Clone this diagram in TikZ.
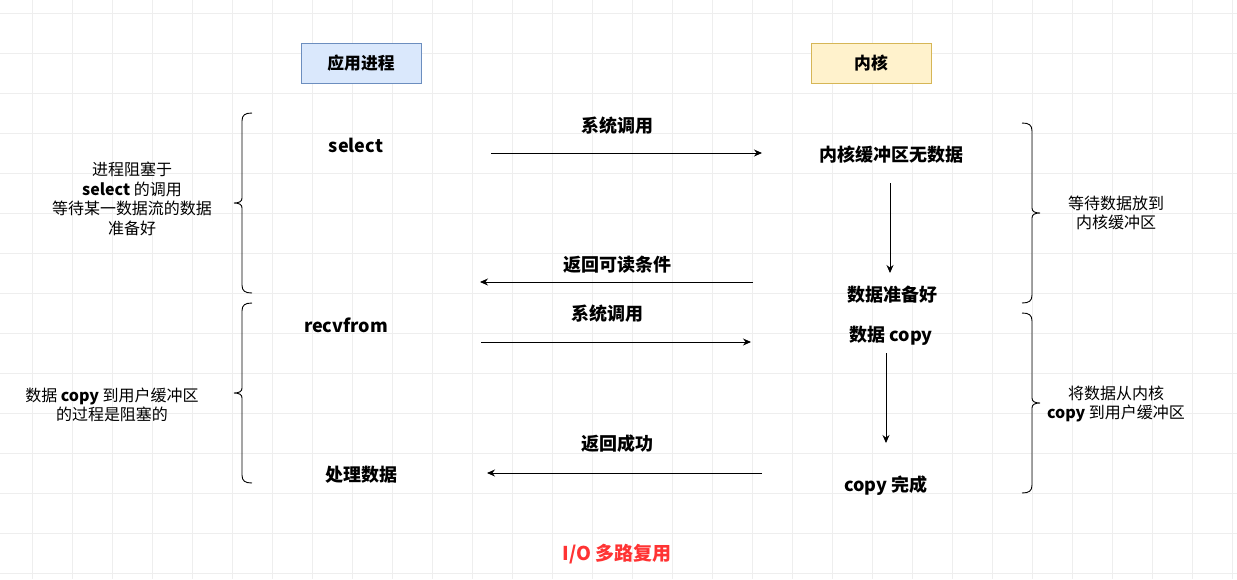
\documentclass[tikz,border=0pt]{standalone}
\usepackage{fontspec}
\setmainfont{Noto Sans CJK SC}
\usetikzlibrary{arrows.meta}
\definecolor{gridc}{HTML}{EEEEEE}
\definecolor{appfill}{HTML}{DAE8FC}
\definecolor{appdraw}{HTML}{6C8EBF}
\definecolor{kfill}{HTML}{FFF2CC}
\definecolor{kdraw}{HTML}{D6B656}
\definecolor{titlered}{HTML}{FF3333}
\begin{document}
\begin{tikzpicture}[x=1pt,y=-1pt,
  lbl/.style={font=\fontsize{18}{21}\selectfont\bfseries, inner sep=0pt},
  side/.style={font=\fontsize{16}{19.5}\selectfont, align=center, inner sep=0pt},
  hdr/.style={minimum width=120pt, minimum height=40pt, inner sep=0pt, line width=0.8pt, font=\fontsize{16.8}{20}\selectfont\bfseries},
  arr/.style={-{Stealth[length=8pt,width=7pt]}, line width=0.9pt},
  bracepath/.style={line width=0.9pt}]
\fill[white] (0,0) rectangle (1237,579);
\useasboundingbox (0,0) rectangle (1237,579);
\foreach \x in {32,72,...,1232} \draw[gridc, line width=0.8pt] (\x,0) -- (\x,579);
\foreach \y in {13,53,...,573} \draw[gridc, line width=0.8pt] (0,\y) -- (1237,\y);

% headers
\node[hdr, fill=appfill, draw=appdraw] (app) at (361,63) {应用进程};
\node[hdr, fill=kfill, draw=kdraw] (kern) at (871,63) {内核};

% labels
\node[lbl] (select) at (356,145) {select};
\node[lbl] (sys1) at (617,126) {系统调用};
\node[lbl] (kbuf) at (891,155) {内核缓冲区无数据};
\node[lbl] (ready) at (892,295) {数据准备好};
\node[lbl] (ret1) at (617,265) {返回可读条件};
\node[lbl] (recv) at (346,325) {recvfrom};
\node[lbl] (sys2) at (607,314) {系统调用};
\node[lbl] (dcopy) at (891,336) {数据 copy};
\node[lbl] (ret2) at (617,444) {返回成功};
\node[lbl] (proc) at (361,475) {处理数据};
\node[lbl] (done) at (886,486) {copy 完成};

\node[side] (s1) at (132,199) {进程阻塞于\\\textbf{select} 的调用\\等待某一数据流的数据\\准备好};
\node[side] (s2) at (112,405) {数据 \textbf{copy} 到用户缓冲区\\的过程是阻塞的};
\node[side] (s3) at (1116,213) {等待数据放到\\内核缓冲区};
\node[side] (s4) at (1116,404) {将数据从内核\\\textbf{copy} 到用户缓冲区};

\node[font=\fontsize{19}{22}\selectfont\bfseries, text=titlered, inner sep=0pt] (title) at (617,554) {I/O 多路复用};

% arrow end points
\coordinate (a1s) at (491,153); \coordinate (a1e) at (762,153);
\coordinate (d1s) at (890,183); \coordinate (d1e) at (890,273);
\coordinate (a2s) at (753,282); \coordinate (a2e) at (480,282);
\coordinate (a3s) at (481,342); \coordinate (a3e) at (751,342);
\coordinate (d2s) at (886,353); \coordinate (d2e) at (886,443);
\coordinate (a4s) at (762,473); \coordinate (a4e) at (487,473);

\draw[arr] (a1s) -- (a1e);
\draw[arr] (d1s) -- (d1e);
\draw[arr] (a2s) -- (a2e);
\draw[arr] (a3s) -- (a3e);
\draw[arr] (d2s) -- (d2e);
\draw[arr] (a4s) -- (a4e);

% braces
\draw[bracepath] (252,113) .. controls (245,113) and (242,115) .. (242,121) -- (242,198) .. controls (242,201) and (240,203) .. (234,203) .. controls (240,203) and (242,205) .. (242,208) -- (242,285) .. controls (242,291) and (245,293) .. (252,293);
\draw[bracepath] (252,303) .. controls (245,303) and (242,305) .. (242,311) -- (242,388) .. controls (242,391) and (240,393) .. (234,393) .. controls (240,393) and (242,395) .. (242,398) -- (242,475) .. controls (242,481) and (245,483) .. (252,483);
\draw[bracepath] (1022,123) .. controls (1029,123) and (1032,125) .. (1032,131) -- (1032,208) .. controls (1032,211) and (1034,213) .. (1040,213) .. controls (1034,213) and (1032,215) .. (1032,218) -- (1032,295) .. controls (1032,301) and (1029,303) .. (1022,303);
\draw[bracepath] (1022,313) .. controls (1029,313) and (1032,315) .. (1032,321) -- (1032,398) .. controls (1032,401) and (1034,403) .. (1040,403) .. controls (1034,403) and (1032,405) .. (1032,408) -- (1032,485) .. controls (1032,491) and (1029,493) .. (1022,493);
\end{tikzpicture}
\end{document}
